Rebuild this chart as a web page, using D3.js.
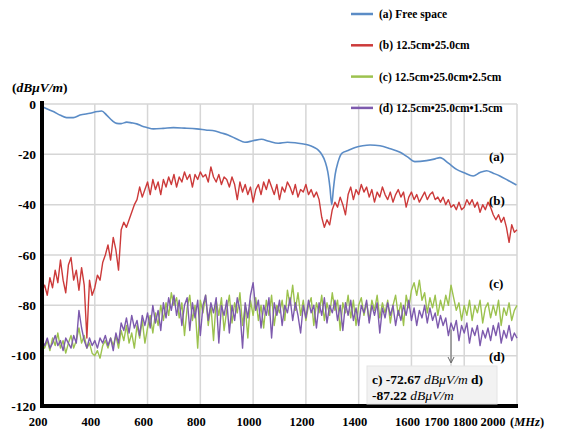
<!DOCTYPE html>
<html>
<head>
<meta charset="utf-8">
<script src="https://cdnjs.cloudflare.com/ajax/libs/d3/7.8.5/d3.min.js"></script>
<style>
  body { margin: 0; background: #fff; }
  text { font-family: "Liberation Serif", "DejaVu Serif", serif; }
</style>
</head>
<body>
<div id="chart"></div>
<script>
// Series (a): free space, irregular frequency grid (MHz) -> level (dBuV/m)
const freqA = [200, 220, 243, 270, 293, 319, 344, 382, 410, 426, 445, 465, 483, 500, 521, 540, 559, 580, 597, 622,
    660, 698, 740, 786, 820, 856, 880, 905, 940, 969, 1000, 1032, 1060, 1095, 1130, 1159, 1185, 1209, 1230, 1247,
    1260, 1273, 1283, 1291, 1298, 1304, 1311, 1322, 1336, 1360, 1387, 1415, 1443, 1481, 1520, 1557, 1585, 1613,
    1657, 1690, 1708, 1740, 1771, 1800, 1834, 1860, 1885, 1910, 1935, 1965, 1998];
const levelA = [-1, -2, -3, -4.5, -5.4, -5.4, -4.4, -3.7, -3, -2.8, -4.4, -6.5, -7.7, -7.8, -7.2, -7.5, -7.9, -8.8, -9.3, -9.9,
    -9.7, -9.4, -9.6, -9.9, -10.3, -10.7, -11.5, -12.3, -14, -15.2, -14.6, -14, -14.8, -15.6, -15.2, -15.4, -15.8, -16.3, -17.2, -18.3,
    -20, -22.9, -27, -33, -40, -34, -28, -23, -19.6, -18.5, -17.3, -16.6, -16.3, -16.6, -17.8, -19.2, -21, -22.9,
    -22.5, -21.8, -21.3, -23.5, -26, -27.3, -28.6, -27.2, -26.5, -27.5, -28.6, -30.3, -32.2];

// Series (b), (c), (d): one value every 10 MHz from 200 to 2000
const freqStep = d3.range(200, 2001, 10);
const levelB = [-74, -72, -76, -69, -73, -66, -71, -62, -70, -75, -64, -61, -70, -66, -74, -65, -72, -93, -70, -76,
    -73, -68, -70, -63, -60, -56, -62, -53, -58, -66, -50, -47, -49, -46, -43, -40, -38, -33, -37, -34,
    -31, -36, -30, -34, -31, -36, -30, -33, -29, -32, -28, -33, -29, -31, -27, -30, -28, -33, -28, -30,
    -27, -29, -28, -31, -25, -29, -31, -28, -32, -29, -30, -33, -29, -32, -38, -31, -35, -32, -36, -33,
    -39, -34, -32, -36, -31, -34, -30, -33, -36, -32, -38, -33, -35, -31, -33, -36, -32, -37, -34, -35,
    -32, -36, -34, -37, -35, -38, -45, -49, -46, -48, -42, -39, -41, -37, -40, -44, -36, -33, -38, -34,
    -36, -32, -35, -33, -37, -34, -39, -35, -37, -33, -36, -38, -35, -39, -36, -34, -37, -35, -41, -37,
    -35, -38, -36, -39, -37, -35, -38, -36, -35, -38, -37, -39, -37, -40, -38, -41, -40, -42, -39, -42,
    -41, -38, -40, -38, -41, -39, -43, -40, -42, -39, -41, -44, -46, -44, -47, -45, -49, -55, -48, -51, -50];
const levelC = [-95, -97, -94, -98, -93, -96, -91, -97, -94, -99, -95, -92, -97, -94, -89, -95, -92, -97, -95, -99,
    -100, -98, -101, -96, -94, -97, -93, -96, -92, -97, -90, -94, -88, -95, -91, -97, -88, -93, -86, -95,
    -89, -84, -91, -83, -88, -80, -86, -79, -84, -75, -80, -77, -85, -79, -92, -81, -76, -86, -80, -97,
    -78, -83, -76, -88, -80, -94, -78, -84, -77, -90, -82, -76, -87, -79, -83, -75, -88, -80, -93, -78,
    -84, -77, -86, -80, -89, -78, -84, -76, -88, -80, -83, -78, -86, -74, -80, -72, -82, -75, -84, -78,
    -86, -80, -77, -88, -79, -83, -76, -86, -79, -84, -75, -82, -78, -90, -79, -83, -76, -85, -78, -88,
    -80, -77, -84, -79, -86, -78, -82, -76, -85, -79, -83, -78, -87, -80, -76, -84, -79, -88, -76, -81,
    -74, -71, -76, -70, -78, -75, -83, -77, -81, -76, -84, -78, -82, -76, -80, -72, -77, -82, -79, -86,
    -80, -84, -78, -86, -80, -83, -78, -87, -81, -79, -85, -80, -84, -78, -88, -81, -84, -79, -86, -82, -80];
const levelD = [-94, -96, -93, -97, -95, -92, -96, -94, -98, -93, -95, -97, -92, -95, -82, -89, -94, -97, -93, -96,
    -94, -97, -93, -95, -92, -96, -93, -98, -91, -95, -87, -90, -85, -91, -84, -89, -86, -92, -84, -88,
    -83, -89, -80, -87, -82, -90, -79, -85, -77, -82, -76, -84, -78, -88, -80, -77, -90, -79, -85, -78,
    -92, -80, -76, -86, -79, -83, -77, -95, -80, -84, -78, -91, -80, -86, -77, -82, -97, -79, -85, -76,
    -71, -82, -78, -89, -80, -84, -77, -93, -79, -84, -78, -88, -80, -83, -77, -86, -79, -84, -91, -80,
    -85, -78, -83, -80, -89, -79, -84, -77, -87, -80, -83, -78, -86, -80, -90, -79, -84, -78, -86, -81,
    -88, -80, -83, -78, -87, -80, -84, -79, -91, -81, -85, -79, -84, -80, -88, -82, -86, -80, -84, -78,
    -86, -81, -88, -82, -85, -80, -87, -81, -86, -83, -89, -84, -88, -85, -92, -87, -90, -86, -94, -88,
    -91, -87, -95, -89, -92, -88, -96, -90, -93, -89, -94, -88, -92, -87, -95, -90, -93, -88, -94, -91, -93];

const legendLabels = ["(a) Free space", "(b) 12.5cm\u202225.0cm", "(c) 12.5cm\u202225.0cm\u20222.5cm", "(d) 12.5cm\u202225.0cm\u20221.5cm"];
const curveTags = ["(a)", "(b)", "(c)", "(d)"];
const colors = ["#5b8cc6", "#cc3a3a", "#9cc24e", "#7d5aad"];
const xTicks = [200, 400, 600, 800, 1000, 1200, 1400, 1600, 1700, 1800, 2000];
const xGrid = [200, 400, 600, 800, 1000, 1200, 1400, 1600, 1750, 1800, 2000];
const yTicks = [0, -20, -40, -60, -80, -100, -120];
const markerFreq = 1750;
const markerC = -72.67, markerD = -87.22;

const width = 583, height = 431;
const plotLeft = 42, plotRight = 517, plotTop = 104, plotBottom = 406;

const svg = d3.select("#chart").append("svg")
    .attr("width", width)
    .attr("height", height);

const x = d3.scaleLinear().domain([200, 2000]).range([plotLeft, plotRight]);
const y = d3.scaleLinear().domain([-120, 0]).range([plotBottom, plotTop]);

// grid
svg.append("g").selectAll("line")
    .data(yTicks)
    .join("line")
    .attr("x1", plotLeft).attr("x2", plotRight)
    .attr("y1", d => y(d)).attr("y2", d => y(d))
    .attr("stroke", "#d6d6d6").attr("stroke-width", 1.5);

svg.append("g").selectAll("line")
    .data(xGrid)
    .join("line")
    .attr("x1", d => x(d)).attr("x2", d => x(d))
    .attr("y1", plotTop).attr("y2", plotBottom)
    .attr("stroke", "#d6d6d6").attr("stroke-width", 1.5);

// curves
const series = [
    freqA.map((f, i) => [f, levelA[i]]),
    freqStep.map((f, i) => [f, levelB[i]]),
    freqStep.map((f, i) => [f, levelC[i]]),
    freqStep.map((f, i) => [f, levelD[i]])
];

const line = d3.line()
    .x(d => x(d[0]))
    .y(d => y(d[1]));

svg.append("g").selectAll("path")
    .data(series)
    .join("path")
    .attr("d", (d, i) => i === 0 ? line.curve(d3.curveMonotoneX)(d) : line.curve(d3.curveLinear)(d))
    .attr("fill", "none")
    .attr("stroke", (d, i) => colors[i])
    .attr("stroke-width", (d, i) => i === 0 ? 1.6 : 1.4)
    .attr("stroke-linejoin", "round");

// axes (thick black)
svg.append("line")
    .attr("x1", plotLeft).attr("x2", plotLeft)
    .attr("y1", plotTop - 3).attr("y2", plotBottom + 2)
    .attr("stroke", "#000").attr("stroke-width", 4);
svg.append("line")
    .attr("x1", plotLeft - 2).attr("x2", plotRight + 1)
    .attr("y1", plotBottom).attr("y2", plotBottom)
    .attr("stroke", "#000").attr("stroke-width", 4);

svg.append("g").selectAll("text")
    .data(yTicks)
    .join("text")
    .attr("x", plotLeft - 6)
    .attr("y", d => y(d))
    .attr("dy", "0.35em")
    .attr("text-anchor", "end")
    .attr("font-size", 13.5)
    .attr("font-weight", "bold")
    .text(d => d);

// the last few labels sit slightly off their grid lines in the original
const labelShift = { 1700: -1, 1800: 1, 2000: -24 };
svg.append("g").selectAll("text")
    .data(xTicks)
    .join("text")
    .attr("x", d => x(d) + (labelShift[d] !== undefined ? labelShift[d] : -4))
    .attr("y", 426)
    .attr("text-anchor", "middle")
    .attr("font-size", 12.5)
    .attr("font-weight", "bold")
    .text(d => d);

svg.append("text")
    .attr("x", 510).attr("y", 426)
    .attr("font-size", 12.5).attr("font-weight", "bold")
    .html('(<tspan font-style="italic">MHz</tspan>)');

svg.append("text")
    .attr("x", 12).attr("y", 92)
    .attr("font-size", 13.5).attr("font-weight", "bold")
    .html('(<tspan font-style="italic">dB\u03bcV/m</tspan>)');

// curve tags
const tagY = [-21, -38.5, -71.5, -100.5];
svg.append("g").selectAll("text")
    .data(curveTags)
    .join("text")
    .attr("x", 489)
    .attr("y", (d, i) => y(tagY[i]))
    .attr("dy", "0.35em")
    .attr("font-size", 13)
    .attr("font-weight", "bold")
    .text(d => d);

// legend
const legend = svg.append("g").selectAll("g")
    .data(legendLabels)
    .join("g")
    .attr("transform", (d, i) => `translate(351,${14 + i * 31.3})`);
legend.append("line")
    .attr("x1", 0).attr("x2", 22)
    .attr("stroke", (d, i) => colors[i])
    .attr("stroke-width", 2.5);
legend.append("text")
    .attr("x", 28).attr("dy", "0.35em")
    .attr("font-size", 11.5)
    .attr("font-weight", "bold")
    .text(d => d);

// marker arrow and readout box
svg.append("line")
    .attr("x1", x(markerFreq)).attr("x2", x(markerFreq))
    .attr("y1", y(markerD) + 6).attr("y2", 362)
    .attr("stroke", "#666").attr("stroke-width", 1);
svg.append("path")
    .attr("d", `M${x(markerFreq) - 3},357 L${x(markerFreq)},363 L${x(markerFreq) + 3},357`)
    .attr("fill", "none").attr("stroke", "#666").attr("stroke-width", 1);

svg.append("rect")
    .attr("x", 367).attr("y", 366)
    .attr("width", 130).attr("height", 38)
    .attr("fill", "#f2f2f2")
    .attr("stroke", "#e4e4e4");

svg.append("text")
    .attr("x", 372).attr("y", 384)
    .attr("font-size", 13.5).attr("font-weight", "bold")
    .html(`c) ${markerC.toFixed(2)} <tspan font-style="italic" font-weight="normal">dB\u03bcV/m</tspan> d)`);
svg.append("text")
    .attr("x", 372).attr("y", 400)
    .attr("font-size", 13.5).attr("font-weight", "bold")
    .html(`${markerD.toFixed(2)} <tspan font-style="italic" font-weight="normal">dB\u03bcV/m</tspan>`);
</script>
</body>
</html>
